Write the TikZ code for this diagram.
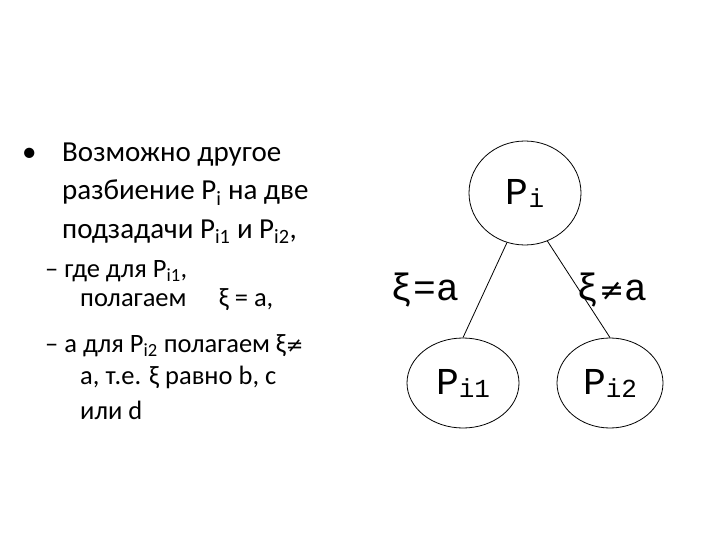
\documentclass[tikz,border=0pt]{standalone}
\usepackage{fontspec}
\setmainfont{Carlito}
\newfontfamily\monof{Liberation Mono}
\newfontfamily\djv{DejaVu Sans}
\usetikzlibrary{shapes.geometric}
\begin{document}
\begin{tikzpicture}[x=1pt,y=-1pt,
  el/.style={draw,thick,ellipse},
  lbl/.style={font=\monof\fontsize{38}{40}\selectfont},
  main/.style={anchor=base west,font=\fontsize{29}{30}\selectfont,inner sep=0},
  sub/.style={anchor=base west,font=\fontsize{26.5}{28}\selectfont,inner sep=0}]
\useasboundingbox[fill=white] (0,0) rectangle (720,540);
\node[main] (b) at (22,162) {•};
\node[main] (t1) at (62,162) {Возможно другое};
\node[main] (t2) at (62,200) {разбиение P\textsubscript{i} на две};
\node[main] (t3) at (62,238) {подзадачи P\textsubscript{i1} и P\textsubscript{i2},};
\node[sub] (s1) at (45,277) {– где для P\textsubscript{i1},};
\node[sub] (s2) at (80,306) {полагаем \quad ξ = a,};
\node[sub] (s3) at (45,352) {– а для P\textsubscript{i2} полагаем ξ{\djv\fontsize{21}{21}\selectfont ≠}};
\node[sub] (s4) at (80,384) {a, т.е. ξ равно b, c};
\node[sub] (s5) at (80,419) {или d};
\node[el,minimum width=112,minimum height=104] (p) at (525,193) {};
\node[lbl] at (p) {P\raisebox{-3pt}{\fontsize{26}{26}\selectfont i}};
\node[el,minimum width=112,minimum height=90] (p1) at (463,383) {};
\node[lbl] at (p1) {P\raisebox{-3pt}{\fontsize{26}{26}\selectfont i1}};
\node[el,minimum width=106,minimum height=90] (p2) at (610,383) {};
\node[lbl] at (p2) {P\raisebox{-3pt}{\fontsize{26}{26}\selectfont i2}};
\draw[thick] (p.250) -- (p1.north);
\draw[thick] (p.295) -- (p2.north);
\node[lbl] (l1) at (425,290) {ξ=a};
\node[lbl] (l2) at (612,290) {ξ{\djv\fontsize{30}{30}\selectfont ≠}a};
\end{tikzpicture}
\end{document}
